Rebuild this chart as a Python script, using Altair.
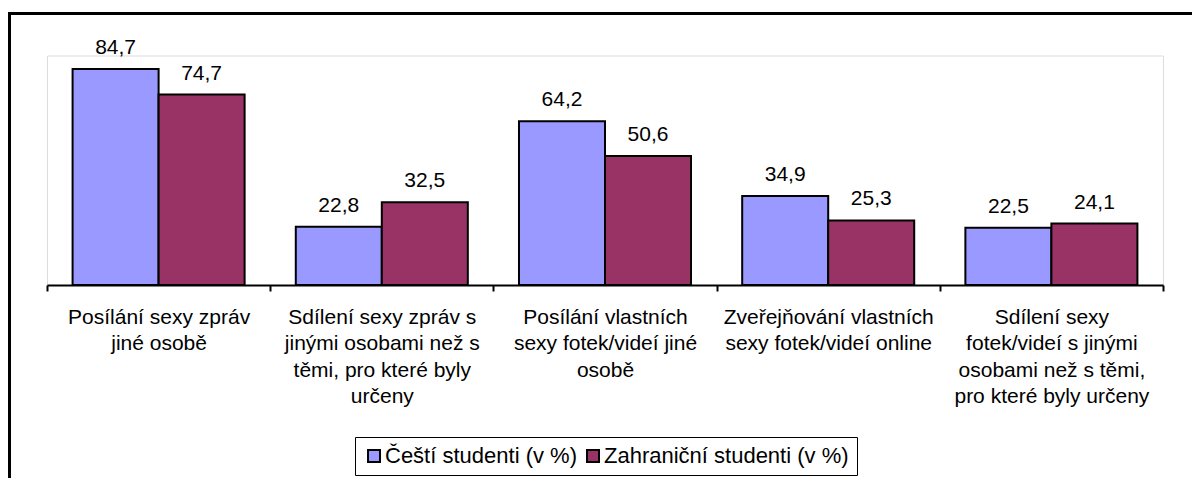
import altair as alt
import pandas as pd

categories = [
    "Posílání sexy zpráv\njiné osobě",
    "Sdílení sexy zpráv s\njinými osobami než s\ntěmi, pro které byly\nurčeny",
    "Posílání vlastních\nsexy fotek/videí jiné\nosobě",
    "Zveřejňování vlastních\nsexy fotek/videí online",
    "Sdílení sexy\nfotek/videí s jinými\nosobami než s těmi,\npro které byly určeny",
]
series = ["Čeští studenti (v %)", "Zahraniční studenti (v %)"]
czech = [84.7, 22.8, 64.2, 34.9, 22.5]
foreign = [74.7, 32.5, 50.6, 25.3, 24.1]
colors = ["#9999FF", "#993366"]

rows = []
for c, a, b in zip(categories, czech, foreign):
    rows.append({"cat": c, "series": series[0], "value": a})
    rows.append({"cat": c, "series": series[1], "value": b})
df = pd.DataFrame(rows)

FONT = "Liberation Sans"

base = alt.Chart(df).encode(
    x=alt.X(
        "cat:N",
        sort=categories,
        scale=alt.Scale(paddingInner=0, paddingOuter=0),
        axis=alt.Axis(
            title=None,
            labelAngle=0,
            labelExpr="split(datum.label, '\\n')",
            labelFont=FONT,
            labelFontSize=21,
            labelColor="black",
            labelLineHeight=26.5,
            labelPadding=15,
            labelLimit=0,
            domainColor="black",
            domainWidth=2,
            tickColor="black",
            tickWidth=2,
            tickSize=6,
            tickBand="extent",
            grid=False,
        ),
    ),
    xOffset=alt.XOffset(
        "series:N", sort=series, scale=alt.Scale(paddingInner=0, paddingOuter=0.2975)
    ),
)

bars = base.mark_bar(stroke="black", strokeWidth=2).encode(
    y=alt.Y("value:Q", scale=alt.Scale(domain=[0, 90], nice=False, zero=True), axis=None),
    color=alt.Color(
        "series:N",
        sort=series,
        scale=alt.Scale(domain=series, range=colors),
        legend=alt.Legend(
            title=None,
            orient="none",
            legendX=308,
            legendY=381.5,
            direction="horizontal",
            strokeColor="black",
            padding=8,
            labelFont=FONT,
            labelFontSize=22,
            labelColor="black",
            labelOffset=0,
            labelLimit=0,
            columnPadding=5,
            symbolType="square",
            symbolSize=144,
            symbolStrokeColor="black",
            symbolStrokeWidth=2,
            symbolOpacity=1,
            fillColor="white",
        ),
    ),
)

labels = base.mark_text(
    font=FONT, fontSize=21, color="black", baseline="alphabetic", dy=-15
).transform_calculate(
    label="replace(format(datum.value, '.1f'), '.', ',')"
).encode(
    y=alt.Y("value:Q"),
    text="label:N",
)

one = alt.Data(values=[{"k": 1}])
border = alt.Chart(one).mark_rect(
    stroke="black", strokeWidth=3, fillOpacity=0, strokeOpacity=1
).encode(
    x=alt.value(-37.5), x2=alt.value(1250), y=alt.value(-42), y2=alt.value(520)
)

chart = (
    alt.layer(border, bars, labels)
    .properties(
        width=1116,
        height=229.5,
        autosize=alt.AutoSizeParams(type="none"),
        padding={"left": 39, "top": 47.5, "right": 29, "bottom": 193},
        background="white",
    )
    .configure_view(stroke=None)
    .configure_legend(strokeWidth=2)
    .configure(font=FONT)
)

chart.save("out.html", embed_options={"renderer": "svg", "actions": False})
